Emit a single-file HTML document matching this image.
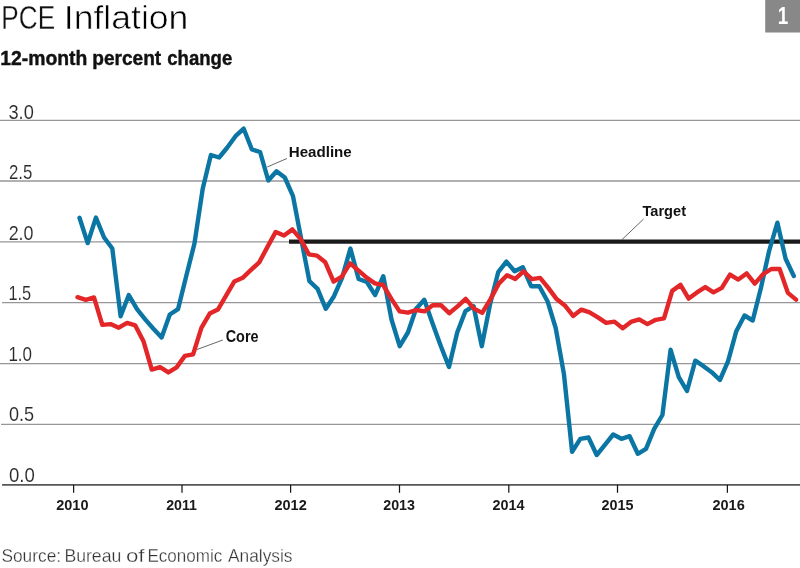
<!DOCTYPE html>
<html lang="en">
<head>
<meta charset="utf-8">
<title>PCE Inflation</title>
<style>
html,body{margin:0;padding:0;background:#fff;}
body{width:800px;height:568px;overflow:hidden;position:relative;font-family:"Liberation Sans",sans-serif;}
svg{display:block;position:absolute;left:0;top:0;will-change:transform;}
text{font-family:"Liberation Sans",sans-serif;}
.title{font-size:34px;fill:#111;stroke:#fff;stroke-width:0.3px;}
.titleb{font-size:34px;fill:#000;stroke:#fff;stroke-width:0.65px;}
.sub{font-size:19.5px;font-weight:bold;fill:#111;stroke:#111;stroke-width:0.4px;}
.yl{font-size:20.5px;fill:#2a2a2a;stroke:#fff;stroke-width:0.12px;}
.xl{font-size:14.5px;font-weight:bold;fill:#1a1a1a;}
.lab{font-size:15px;font-weight:bold;fill:#111;}
.lab2{font-size:16px;font-weight:bold;fill:#111;}
.src{font-size:18.5px;fill:#333;stroke:#fff;stroke-width:0.3px;}
.num{font-size:23px;font-weight:bold;fill:#fff;}
.grid{stroke:#989698;stroke-width:1.3;fill:none;}
.axis{stroke:#585556;stroke-width:1.9;fill:none;}
.tick{stroke:#161616;stroke-width:1.25;fill:none;}
.lead{stroke:#4a4a4a;stroke-width:0.85;fill:none;}
.series{fill:none;stroke-width:4.4;stroke-linejoin:round;stroke-linecap:round;}
</style>
</head>
<body>
<svg width="800" height="568" viewBox="0 0 800 568">
<rect x="0" y="0" width="800" height="568" fill="#ffffff"/>
<!-- title -->
<text><tspan class="title" x="1.35" y="28.75" textLength="53.74" lengthAdjust="spacingAndGlyphs">PCE</tspan> <tspan class="titleb" x="63.81" y="28.75" textLength="124.59" lengthAdjust="spacingAndGlyphs">Inflation</tspan></text>
<!-- subtitle -->
<text><tspan class="sub" x="0.22" y="64.8" textLength="87.05" lengthAdjust="spacingAndGlyphs">12-month</tspan> <tspan class="sub" x="92.23" y="64.8" textLength="69.02" lengthAdjust="spacingAndGlyphs">percent</tspan> <tspan class="sub" x="167.24" y="64.8" textLength="65.02" lengthAdjust="spacingAndGlyphs">change</tspan></text>
<!-- figure number box -->
<rect x="765.2" y="0" width="34.8" height="32.5" fill="#888888"/>
<text class="num" x="777.83" y="23.5" textLength="10.5" lengthAdjust="spacingAndGlyphs">1</text>
<!-- gridlines -->
<line class="grid" x1="0" x2="800" y1="120.4" y2="120.4"/>
<line class="grid" x1="0" x2="800" y1="181.0" y2="181.0"/>
<line class="grid" x1="0" x2="800" y1="241.9" y2="241.9"/>
<line class="grid" x1="2" x2="800" y1="302.6" y2="302.6"/>
<line class="grid" x1="0" x2="800" y1="363.55" y2="363.55"/>
<line class="grid" x1="1" x2="800" y1="424.45" y2="424.45"/>
<!-- y axis labels -->
<text class="yl" x="8.45" y="118.5" textLength="25.35" lengthAdjust="spacingAndGlyphs">3.0</text>
<text class="yl" x="8.94" y="179.07" textLength="23.36" lengthAdjust="spacingAndGlyphs">2.5</text>
<text class="yl" x="8.68" y="239.64" textLength="24.87" lengthAdjust="spacingAndGlyphs">2.0</text>
<text class="yl" x="8.38" y="300.21" textLength="22.69" lengthAdjust="spacingAndGlyphs">1.5</text>
<text class="yl" x="8.38" y="360.78" textLength="23.68" lengthAdjust="spacingAndGlyphs">1.0</text>
<text class="yl" x="8.95" y="421.35" textLength="25.1" lengthAdjust="spacingAndGlyphs">0.5</text>
<text class="yl" x="8.95" y="481.92" textLength="25.85" lengthAdjust="spacingAndGlyphs">0.0</text>
<!-- x axis -->
<line class="axis" x1="2.1" x2="800" y1="484.9" y2="484.9"/>
<line class="tick" x1="73.6" x2="73.6" y1="484.9" y2="492.8"/>
<line class="tick" x1="182" x2="182" y1="484.9" y2="492.8"/>
<line class="tick" x1="290.6" x2="290.6" y1="484.9" y2="492.8"/>
<line class="tick" x1="399.5" x2="399.5" y1="484.9" y2="492.8"/>
<line class="tick" x1="508.8" x2="508.8" y1="484.9" y2="492.8"/>
<line class="tick" x1="617.5" x2="617.5" y1="484.9" y2="492.8"/>
<line class="tick" x1="727.4" x2="727.4" y1="484.9" y2="492.8"/>
<text class="xl" x="56.23" y="509.7" textLength="32.29" lengthAdjust="spacingAndGlyphs">2010</text>
<text class="xl" x="166.23" y="509.7" textLength="30.79" lengthAdjust="spacingAndGlyphs">2011</text>
<text class="xl" x="274.48" y="509.7" textLength="32.3" lengthAdjust="spacingAndGlyphs">2012</text>
<text class="xl" x="383.23" y="509.7" textLength="31.78" lengthAdjust="spacingAndGlyphs">2013</text>
<text class="xl" x="492.49" y="509.7" textLength="32.01" lengthAdjust="spacingAndGlyphs">2014</text>
<text class="xl" x="601.48" y="509.7" textLength="32.03" lengthAdjust="spacingAndGlyphs">2015</text>
<text class="xl" x="712.49" y="509.7" textLength="32.28" lengthAdjust="spacingAndGlyphs">2016</text>
<!-- target line -->
<line x1="289" x2="800" y1="241.7" y2="241.7" stroke="#1a1a1a" stroke-width="4.3"/>
<!-- leader lines -->
<line class="lead" x1="267.2" y1="167" x2="286.9" y2="158.5"/>
<line class="lead" x1="197" y1="349.5" x2="222.8" y2="340"/>
<line class="lead" x1="621.9" y1="239.7" x2="643.5" y2="219.1"/>
<!-- headline series -->
<path class="series" stroke="#0b76a3" d="M79.5,217.8 L87.7,243.1 L95.9,217.6 L104.1,237.5 L112.3,248.5 L120.6,316.2 L128.8,295.0 L137.0,309.2 L145.2,319.4 L153.4,328.7
 L161.6,337.5 L169.8,314.5 L178.0,309.2 L186.2,276.2 L194.4,243.8 L202.7,188.8 L210.9,155.0 L219.1,157.5 L227.3,147.5 L235.5,136.2
 L243.7,128.7 L251.9,149.5 L260.1,152.0 L268.3,180.5 L276.5,171.2 L284.8,177.5 L293.0,196.2 L301.2,239.0 L309.4,281.2 L317.6,288.8
 L325.8,308.8 L334.0,296.2 L342.2,277.5 L350.4,248.5 L358.6,279.0 L366.9,282.0 L375.1,295.2 L383.3,276.2 L391.5,319.5 L399.7,346.2
 L407.9,332.5 L416.1,308.8 L424.3,299.8 L432.5,323.2 L440.7,345.8 L449.0,367.0 L457.2,332.5 L465.4,311.2 L473.6,306.2 L481.8,346.2
 L490.0,304.5 L498.2,272.2 L506.4,261.6 L514.6,271.2 L522.8,267.2 L531.1,286.2 L539.3,286.2 L547.5,301.2 L555.7,328.0 L563.9,373.8
 L572.1,451.8 L580.3,438.8 L588.5,437.5 L596.7,455.0 L604.9,444.8 L613.2,434.5 L621.4,438.8 L629.6,436.2 L637.8,453.8 L646.0,448.8
 L654.2,428.8 L662.4,415.0 L670.6,349.8 L678.8,377.2 L687.0,391.0 L695.3,360.7 L703.5,366.2 L711.7,372.2 L719.9,380.0 L728.1,361.2
 L736.3,331.2 L744.5,315.5 L752.7,320.5 L760.9,288.0 L769.1,251.0 L777.4,222.7 L785.6,258.8 L793.8,276.0"/>
<!-- core series -->
<path class="series" stroke="#e32729" d="M77.5,297.2 L85.8,299.9 L94.0,297.4 L102.3,324.9 L110.5,324.1 L118.8,327.7 L127.1,322.9 L135.3,325.4 L143.6,341.6 L151.8,369.6
 L160.1,367.1 L168.4,372.4 L176.6,367.4 L184.9,355.9 L193.1,354.4 L201.4,327.9 L209.7,313.6 L217.9,309.6 L226.2,295.4 L234.4,281.4
 L242.7,277.8 L251.0,269.9 L259.2,262.4 L267.5,246.9 L275.7,231.9 L284.0,235.6 L292.3,229.4 L300.5,238.9 L308.8,254.3 L317.0,255.6
 L325.3,262.3 L333.6,281.6 L341.8,276.6 L350.1,263.4 L358.3,270.4 L366.6,277.6 L374.9,283.4 L383.1,285.0 L391.4,298.9 L399.6,311.4
 L407.9,312.7 L416.2,310.0 L424.4,311.4 L432.7,305.2 L440.9,305.2 L449.2,313.2 L457.5,306.4 L465.7,298.9 L474.0,308.6 L482.2,312.9
 L490.5,299.1 L498.8,283.6 L507.0,275.2 L515.3,278.9 L523.5,271.4 L531.8,279.1 L540.1,277.9 L548.3,287.9 L556.6,299.1 L564.8,305.4
 L573.1,315.9 L581.4,309.6 L589.6,312.4 L597.9,317.4 L606.1,322.9 L614.4,321.6 L622.7,328.2 L630.9,321.9 L639.2,319.4 L647.4,324.1
 L655.7,319.8 L664.0,318.4 L672.2,290.9 L680.5,284.9 L688.7,298.6 L697.0,292.4 L705.3,287.1 L713.5,292.4 L721.8,287.9 L730.0,274.6
 L738.3,279.6 L746.6,273.4 L754.8,283.6 L763.1,274.1 L771.3,269.0 L779.6,269.0 L787.9,292.9 L796.1,299.6"/>
<!-- series labels -->
<text class="lab" x="288.73" y="157.0" textLength="63.04" lengthAdjust="spacingAndGlyphs">Headline</text>
<text class="lab2" x="225.73" y="342.2" textLength="32.78" lengthAdjust="spacingAndGlyphs">Core</text>
<text class="lab" x="642.5" y="216.4" textLength="43.5" lengthAdjust="spacingAndGlyphs">Target</text>
<!-- source -->
<text><tspan class="src" x="1.46" y="561.5" textLength="59.62" lengthAdjust="spacingAndGlyphs">Source:</tspan> <tspan class="src" x="64.42" y="561.5" textLength="56.9" lengthAdjust="spacingAndGlyphs">Bureau</tspan> <tspan class="src" x="125.93" y="561.5" textLength="18.58" lengthAdjust="spacingAndGlyphs">of</tspan> <tspan class="src" x="147.45" y="561.5" textLength="74.81" lengthAdjust="spacingAndGlyphs">Economic</tspan> <tspan class="src" x="227.99" y="561.5" textLength="64.53" lengthAdjust="spacingAndGlyphs">Analysis</tspan></text>
</svg>
</body>
</html>
